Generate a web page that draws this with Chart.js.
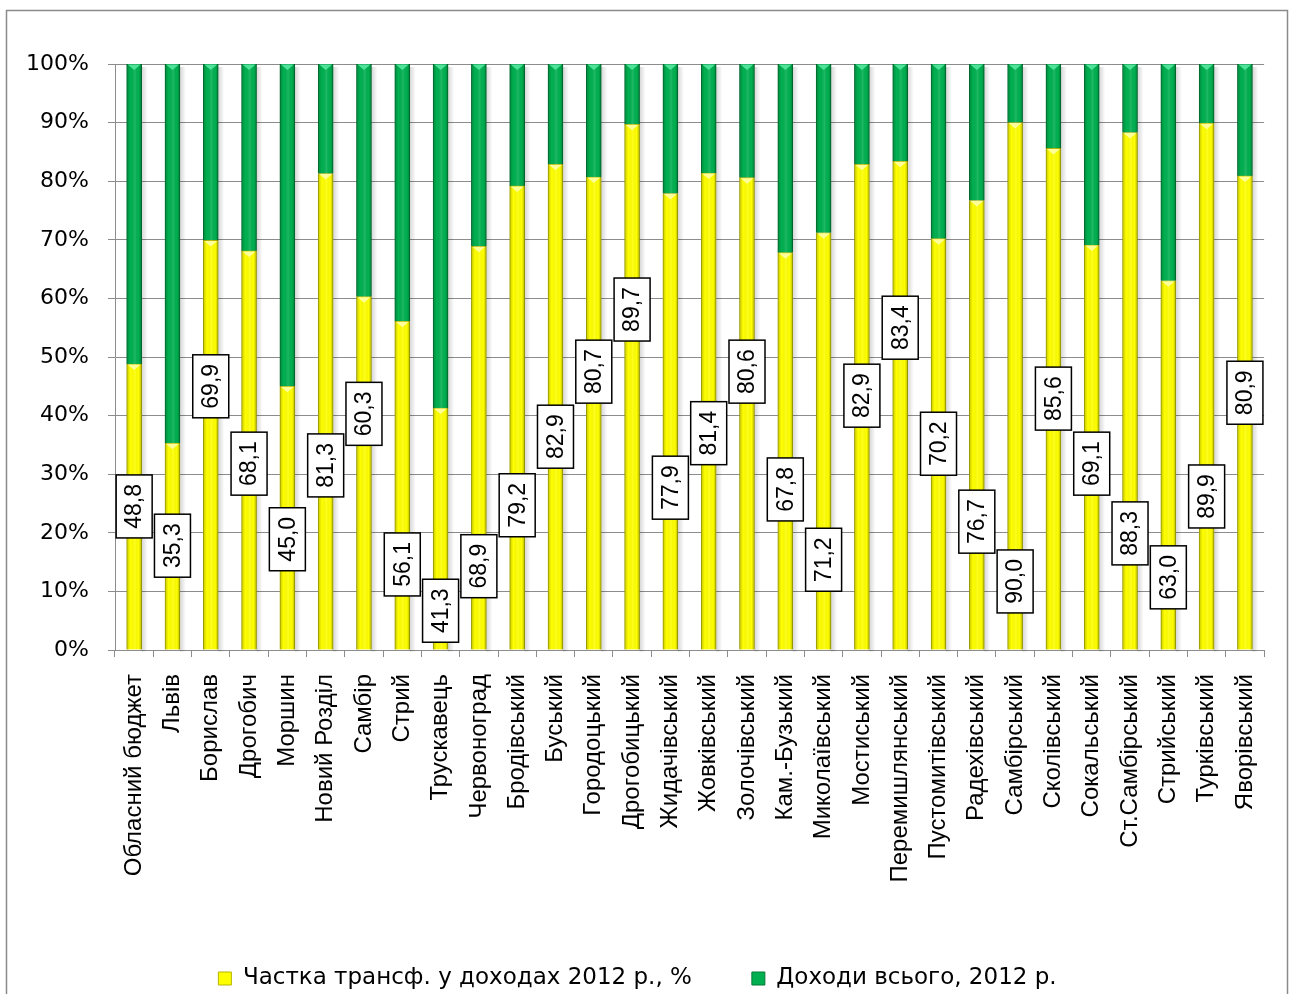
<!DOCTYPE html>
<html>
<head>
<meta charset="utf-8">
<script src="https://cdn.jsdelivr.net/npm/chart.js@4.4.0/dist/chart.umd.min.js"></script>
<style>
  html, body { margin: 0; padding: 0; background: #fff; }
  #wrap { width: 1291px; height: 994px; }
</style>
</head>
<body>
<div id="wrap"><canvas id="chart" width="1291" height="994"></canvas></div>
<script>
// категорії (бюджети)
const rayony = ['Обласний бюджет', 'Львів', 'Борислав', 'Дрогобич', 'Моршин', 'Новий Розділ', 'Самбір', 'Стрий',
  'Трускавець', 'Червоноград', 'Бродівський', 'Буський', 'Городоцький', 'Дрогобицький', 'Жидачівський',
  'Жовківський', 'Золочівський', 'Кам.-Бузький', 'Миколаївський', 'Мостиський', 'Перемишлянський',
  'Пустомитівський', 'Радехівський', 'Самбірський', 'Сколівський', 'Сокальський', 'Ст.Самбірський',
  'Стрийський', 'Турківський', 'Яворівський'];

// частка трансфертів, %
const chastkaTransf = [48.8, 35.3, 69.9, 68.1, 45.0, 81.3, 60.3, 56.1, 41.3, 68.9, 79.2, 82.9, 80.7, 89.7, 77.9,
  81.4, 80.6, 67.8, 71.2, 82.9, 83.4, 70.2, 76.7, 90.0, 85.6, 69.1, 88.3, 63.0, 89.9, 80.9];

// решта до 100% (Доходи всього)
const dohodyVsogo = [51.2, 64.7, 30.1, 31.9, 55.0, 18.7, 39.7, 43.9, 58.7, 31.1, 20.8, 17.1, 19.3, 10.3, 22.1,
  18.6, 19.4, 32.2, 28.8, 17.1, 16.6, 29.8, 23.3, 10.0, 14.4, 30.9, 11.7, 37.0, 10.1, 19.1];

// де стоять підписи (рівень у %, як їх розставили вручну)
const pidpysRiven = [24.5, 17.8, 45.0, 31.8, 18.9, 31.5, 40.3, 14.6, 6.7, 14.3, 24.7, 36.4, 47.5, 58.1, 27.7,
  37.0, 47.5, 27.4, 15.4, 43.4, 55.0, 35.2, 21.9, 11.7, 42.9, 31.8, 19.9, 12.4, 26.2, 43.9];

const shryft = "'Liberation Sans', Arial, sans-serif";
const shyrokyi = "'DejaVu Sans', 'Liberation Sans', sans-serif";

// рамка навколо діаграми
const ramka = {
  id: 'ramka',
  beforeDraw(chart) {
    const ctx = chart.ctx;
    ctx.save();
    ctx.strokeStyle = '#8a8a8a';
    ctx.lineWidth = 1.5;
    ctx.strokeRect(6.5, 10.5, 1281, 1000);
    ctx.restore();
  }
};

// об'ємний вигляд стовпців + підписи
const stovpci = {
  id: 'stovpci',
  beforeDatasetsDraw(chart) {
    const ctx = chart.ctx;
    const niz = chart.getDatasetMeta(0).data;
    const verh = chart.getDatasetMeta(1).data;
    ctx.save();
    niz.forEach((bar, i) => {
      const b = bar.getProps(['x', 'base', 'width'], true);
      const t = verh[i].getProps(['y'], true);
      const g = ctx.createLinearGradient(b.x + b.width / 2, 0, b.x + b.width / 2 + 6, 0);
      g.addColorStop(0, 'rgba(0,0,0,0.16)');
      g.addColorStop(1, 'rgba(0,0,0,0)');
      ctx.fillStyle = g;
      ctx.fillRect(b.x + b.width / 2, t.y + 3, 6, b.base - t.y - 1);
    });
    ctx.restore();
  },
  afterDatasetsDraw(chart) {
    const ctx = chart.ctx;
    ctx.save();
    [0, 1].forEach(di => {
      chart.getDatasetMeta(di).data.forEach(bar => {
        const p = bar.getProps(['x', 'y', 'base', 'width'], true);
        const l = p.x - p.width / 2, r = p.x + p.width / 2;
        const g = ctx.createLinearGradient(l, 0, r, 0);
        g.addColorStop(0, 'rgba(0,0,0,0.22)');
        g.addColorStop(0.25, 'rgba(0,0,0,0)');
        g.addColorStop(0.55, 'rgba(255,255,255,0.12)');
        g.addColorStop(0.8, 'rgba(0,0,0,0)');
        g.addColorStop(1, 'rgba(0,0,0,0.28)');
        ctx.fillStyle = g;
        ctx.fillRect(l, p.y, p.width, p.base - p.y);
        // трикутник зверху
        ctx.beginPath();
        ctx.moveTo(l + 1, p.y + 0.5);
        ctx.lineTo(r - 1, p.y + 0.5);
        ctx.lineTo(p.x, p.y + 6);
        ctx.closePath();
        ctx.fillStyle = di === 1 ? '#4fe39a' : 'rgba(255,255,170,0.9)';
        ctx.fill();
      });
    });

    // підписи значень
    const y = chart.scales.y;
    ctx.font = '23px ' + shryft;
    ctx.textAlign = 'center';
    ctx.textBaseline = 'middle';
    chart.getDatasetMeta(0).data.forEach((bar, i) => {
      const txt = chastkaTransf[i].toFixed(1).replace('.', ',');
      const cy = y.getPixelForValue(pidpysRiven[i]);
      const w = 36, h = 63;
      ctx.fillStyle = '#fff';
      ctx.fillRect(bar.x - w / 2, cy - h / 2, w, h);
      ctx.strokeStyle = '#000';
      ctx.lineWidth = 1.5;
      ctx.strokeRect(bar.x - w / 2, cy - h / 2, w, h);
      ctx.save();
      ctx.translate(bar.x + 1, cy);
      ctx.rotate(-Math.PI / 2);
      ctx.fillStyle = '#000';
      ctx.fillText(txt, 0, 0);
      ctx.restore();
    });
    ctx.restore();
  }
};

new Chart(document.getElementById('chart'), {
  type: 'bar',
  data: {
    labels: rayony,
    datasets: [
      {
        label: 'Частка трансф. у доходах 2012 р., %',
        data: chastkaTransf,
        backgroundColor: '#ffff00',
        borderColor: '#b5b500',
        borderWidth: 1,
        barThickness: 15
      },
      {
        label: 'Доходи всього, 2012 р.',
        data: dohodyVsogo,
        backgroundColor: '#00b050',
        borderColor: '#007a36',
        borderWidth: 1,
        barThickness: 15
      }
    ]
  },
  options: {
    responsive: false,
    devicePixelRatio: 1,
    animation: false,
    layout: { padding: { top: 64, right: 16, left: 0, bottom: -6 } },
    plugins: {
      legend: {
        position: 'bottom',
        labels: {
          boxWidth: 13,
          boxHeight: 13,
          padding: 60,
          color: '#000',
          font: { size: 23, family: shyrokyi }
        }
      },
      tooltip: { enabled: false }
    },
    scales: {
      x: {
        stacked: true,
        grid: { drawOnChartArea: false, drawTicks: true, tickLength: 7, color: '#8c8c8c', offset: true },
        border: { color: '#8c8c8c', width: 1 },
        ticks: {
          autoSkip: false, maxRotation: 90, minRotation: 90, padding: 17,
          color: '#000', font: { size: 24, family: shryft }
        },
        afterFit(s) { s.height = 257; }
      },
      y: {
        stacked: true,
        min: 0,
        max: 100,
        ticks: {
          stepSize: 10, padding: 19, color: '#000',
          font: { size: 22, family: shyrokyi },
          callback: v => v + '%'
        },
        grid: { color: '#8c8c8c', tickLength: 7 },
        border: { color: '#8c8c8c', width: 1 },
        afterFit(s) { s.width = 115; }
      }
    }
  },
  plugins: [ramka, stovpci]
});
</script>
</body>
</html>
